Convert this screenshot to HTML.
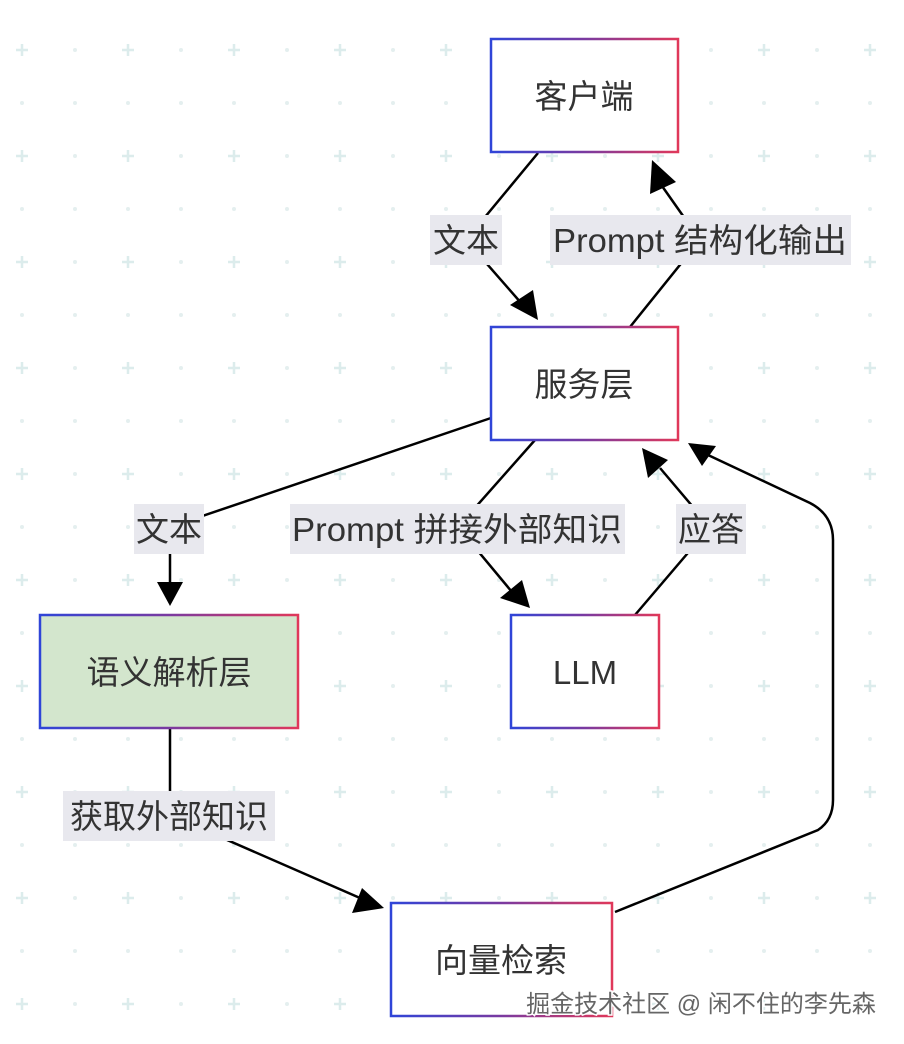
<!DOCTYPE html>
<html><head><meta charset="utf-8"><style>
html,body{margin:0;padding:0;background:#fff;}
svg{display:block;}
text{font-family:"Liberation Sans","Noto Sans CJK SC",sans-serif;fill:#333;}
</style></head><body>
<svg width="904" height="1044" viewBox="0 0 904 1044" xmlns="http://www.w3.org/2000/svg">
<defs>
<pattern id="grid" x="0" y="0" width="106" height="106" patternUnits="userSpaceOnUse">
<path d="M22,44 v12 M16,50 h12" stroke="#dcecec" stroke-width="2.5"/>
<circle cx="75" cy="50" r="2" fill="#e4efef"/>
<circle cx="22" cy="103" r="2" fill="#e4efef"/>
<circle cx="75" cy="103" r="2" fill="#e4efef"/>
</pattern>
<linearGradient id="bd" x1="0" y1="0" x2="1" y2="0">
<stop offset="0" stop-color="#2f45d8"/><stop offset="0.5" stop-color="#7a3aa0"/><stop offset="1" stop-color="#e0385a"/>
</linearGradient>
</defs>
<rect width="904" height="1044" fill="url(#grid)"/>

<g stroke="#000" stroke-width="2.5" fill="none">
<path d="M538,153 L466,240 L522,304"/>
<path d="M630,327 L700,240 L662,186"/>
<path d="M491,418 L170,527 L170,582"/>
<path d="M535,440 L458,527 L512,592"/>
<path d="M635,615 L710,527 L660,468"/>
<path d="M170,728 L170,815 L360,898"/>
<path d="M615,912 L818,830 Q833,820 833,800 L833,540 Q833,515 810,503 L708,455"/>
</g>
<g fill="#000">
<polygon points="538,320 510,305 533,290"/>
<polygon points="652,160 676,182 650,194"/>
<polygon points="170,606 157,582 183,582"/>
<polygon points="530,608 500,598 522,580"/>
<polygon points="642,448 668,460 648,478"/>
<polygon points="688,443 716,446 702,466"/>
<polygon points="384,908 352,913 362,888"/>
</g>

<g fill="#e8e8ee">
<rect x="430" y="215" width="72" height="50"/>
<rect x="550" y="215" width="301" height="50"/>
<rect x="134" y="504" width="70" height="50"/>
<rect x="290" y="504" width="335" height="50"/>
<rect x="676" y="504" width="70" height="50"/>
<rect x="63" y="791" width="212" height="50"/>
</g>
<g font-size="33" text-anchor="middle">
<text x="466" y="252">文本</text>
<text x="700" y="252" textLength="294" lengthAdjust="spacingAndGlyphs">Prompt 结构化输出</text>
<text x="169" y="541">文本</text>
<text x="457" y="541" textLength="330" lengthAdjust="spacingAndGlyphs">Prompt 拼接外部知识</text>
<text x="711" y="541">应答</text>
<text x="169" y="828">获取外部知识</text>
</g>

<g stroke="url(#bd)" stroke-width="2.5">
<rect x="491" y="39" width="187" height="113" fill="#fff"/>
<rect x="491" y="327" width="187" height="113" fill="#fff"/>
<rect x="40" y="615" width="258" height="113" fill="#d3e6cd"/>
<rect x="511" y="615" width="148" height="113" fill="#fff"/>
<rect x="391" y="903" width="221" height="113" fill="#fff"/>
</g>
<g font-size="33" text-anchor="middle">
<text x="584" y="108">客户端</text>
<text x="584" y="396">服务层</text>
<text x="169" y="684">语义解析层</text>
<text x="585" y="684">LLM</text>
<text x="501" y="972">向量检索</text>
</g>
<text x="701" y="1012" font-size="24" text-anchor="middle" style="fill:#666;stroke:#fff;stroke-width:3;paint-order:stroke;">掘金技术社区 @ 闲不住的李先森</text>
</svg>
</body></html>
